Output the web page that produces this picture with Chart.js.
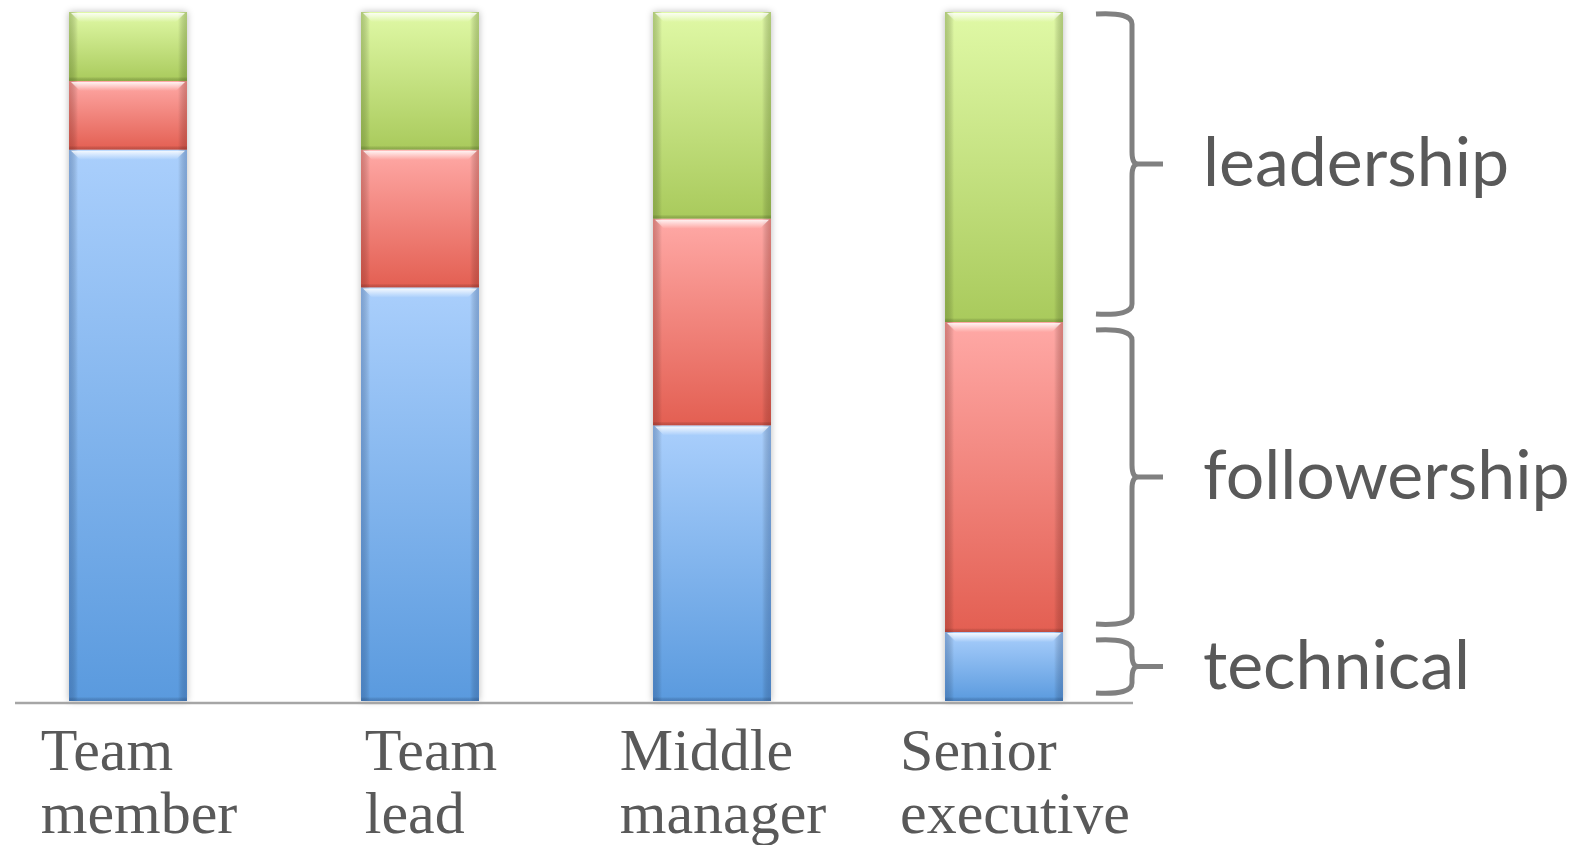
<!DOCTYPE html>
<html>
<head>
<meta charset="utf-8">
<script src="https://cdn.jsdelivr.net/npm/chart.js@4.4.1/dist/chart.umd.min.js"></script>
<style>
  html, body { margin: 0; padding: 0; background: #fff; }
  #wrap { width: 1588px; height: 845px; }
</style>
</head>
<body>
<div id="wrap"><canvas id="barChart" width="1588" height="845"></canvas></div>
<script>
// data (percent of each bar)
var categories = [['Team', 'member'], ['Team', 'lead'], ['Middle', 'manager'], ['Senior', 'executive']];
var technical = [80, 60, 40, 10];
var followership = [10, 20, 30, 45];
var leadership = [10, 20, 30, 45];
var seriesNames = ['technical', 'followership', 'leadership'];

var palette = [
    { top: '#aacffc', bottom: '#5a9ade', edge: 'rgba(40,80,140,0.35)' },
    { top: '#ffa9a6', bottom: '#e35f52', edge: 'rgba(140,40,30,0.35)' },
    { top: '#e0f9a6', bottom: '#a9ca5c', edge: 'rgba(80,110,30,0.35)' }
];

var allSeries = [technical, followership, leadership];

function segmentFill(dsIndex) {
    return function (c) {
        var chart = c.chart;
        var y = chart.scales.y;
        if (!chart.chartArea || !y) return palette[dsIndex].top;
        var j = c.dataIndex;
        var lo = 0;
        for (var k = 0; k < dsIndex; k++) lo += allSeries[k][j];
        var hi = lo + allSeries[dsIndex][j];
        var g = chart.ctx.createLinearGradient(0, y.getPixelForValue(hi), 0, y.getPixelForValue(lo));
        g.addColorStop(0, palette[dsIndex].top);
        g.addColorStop(1, palette[dsIndex].bottom);
        return g;
    };
}

// soft shadow behind each stacked column
var shadowPlugin = {
    id: 'shadow',
    beforeDatasetsDraw: function (chart) {
        var ctx = chart.ctx;
        var first = chart.getDatasetMeta(0).data;
        var lastMeta = chart.getDatasetMeta(chart.data.datasets.length - 1).data;
        ctx.save();
        ctx.shadowColor = 'rgba(0,0,0,0.28)';
        ctx.shadowBlur = 7;
        ctx.fillStyle = '#ffffff';
        first.forEach(function (el, j) {
            var p = el.getProps(['x', 'base', 'width'], true);
            var topY = lastMeta[j].getProps(['y'], true).y;
            ctx.fillRect(p.x - p.width / 2, topY, p.width, p.base - topY);
        });
        ctx.restore();
    }
};

// glossy edges on each segment
var glossPlugin = {
    id: 'gloss',
    afterDatasetsDraw: function (chart) {
        var ctx = chart.ctx;
        chart.data.datasets.forEach(function (ds, i) {
            var meta = chart.getDatasetMeta(i);
            meta.data.forEach(function (el) {
                var p = el.getProps(['x', 'y', 'base', 'width'], true);
                var l = p.x - p.width / 2, r = p.x + p.width / 2;
                var t = Math.min(p.y, p.base), b = Math.max(p.y, p.base);
                ctx.save();
                var gl = ctx.createLinearGradient(l, 0, l + 9, 0);
                gl.addColorStop(0, palette[i].edge);
                gl.addColorStop(1, 'rgba(0,0,0,0)');
                ctx.fillStyle = gl;
                ctx.fillRect(l, t, 9, b - t);
                var gr = ctx.createLinearGradient(r, 0, r - 9, 0);
                gr.addColorStop(0, palette[i].edge);
                gr.addColorStop(1, 'rgba(0,0,0,0)');
                ctx.fillStyle = gr;
                ctx.fillRect(r - 9, t, 9, b - t);
                // top highlight
                var gh = ctx.createLinearGradient(0, t, 0, t + 10);
                gh.addColorStop(0, 'rgba(255,255,255,0.95)');
                gh.addColorStop(1, 'rgba(255,255,255,0)');
                ctx.fillStyle = gh;
                ctx.beginPath();
                ctx.moveTo(l + 2, t + 1);
                ctx.lineTo(r - 2, t + 1);
                ctx.lineTo(r - 12, t + 11);
                ctx.lineTo(l + 12, t + 11);
                ctx.closePath();
                ctx.fill();
                // bottom darker line
                var gb = ctx.createLinearGradient(0, b - 4, 0, b);
                gb.addColorStop(0, 'rgba(0,0,0,0)');
                gb.addColorStop(1, palette[i].edge);
                ctx.fillStyle = gb;
                ctx.fillRect(l, b - 4, p.width, 4);
                ctx.restore();
            });
        });
    }
};

// baseline, category labels, braces
var annotatePlugin = {
    id: 'annotate',
    afterDraw: function (chart) {
        var ctx = chart.ctx;
        var xs = chart.scales.x, ys = chart.scales.y;
        var area = chart.chartArea;
        ctx.save();
        // axis line
        ctx.strokeStyle = '#a6a6a6';
        ctx.lineWidth = 2.5;
        ctx.beginPath();
        ctx.moveTo(15, area.bottom + 2);
        ctx.lineTo(1133, area.bottom + 2);
        ctx.stroke();

        // category labels: left-aligned block under each bar
        ctx.fillStyle = '#595959';
        ctx.font = '60px "Liberation Serif"';
        ctx.textBaseline = 'alphabetic';
        ctx.textAlign = 'left';
        categories.forEach(function (lines, i) {
            var cx = xs.getPixelForValue(i);
            var w = 0;
            lines.forEach(function (s) { w = Math.max(w, ctx.measureText(s).width); });
            var left = cx - w / 2 + 11;
            lines.forEach(function (s, k) {
                ctx.fillText(s, left, area.bottom + 69 + k * 63);
            });
        });

        // braces against the last bar's stack
        var last = categories.length - 1;
        var lo = 0, spans = [];
        allSeries.forEach(function (s) {
            spans.push([lo, lo + s[last]]);
            lo += s[last];
        });
        var vx = 1132, hx = 1096, tipx = 1163;
        ctx.strokeStyle = '#808080';
        ctx.lineWidth = 5;
        ctx.lineCap = 'butt';
        ctx.font = '68px Lato';
        ctx.fillStyle = '#595959';
        spans.forEach(function (sp, i) {
            var bot = ys.getPixelForValue(sp[0]) - 6;
            var top = ys.getPixelForValue(sp[1]) + (i === spans.length - 1 ? 0 : 6);
            var mid = (top + bot) / 2;
            var rr = Math.min(12, (bot - top) / 4);
            ctx.beginPath();
            ctx.moveTo(hx, top + 2);
            ctx.quadraticCurveTo(vx, top, vx, top + rr);
            ctx.lineTo(vx, mid - rr);
            ctx.quadraticCurveTo(vx, mid, vx + 6, mid);
            ctx.lineTo(tipx, mid);
            ctx.moveTo(vx + 6, mid);
            ctx.quadraticCurveTo(vx, mid, vx, mid + rr);
            ctx.lineTo(vx, bot - rr);
            ctx.quadraticCurveTo(vx, bot, hx, bot - 2);
            ctx.stroke();
            ctx.fillText(seriesNames[i], 1203, mid + 22);
        });
        ctx.restore();
    }
};

var barCanvas = document.getElementById('barChart').getContext('2d');
var barData = {
    labels: categories,
    datasets: allSeries.map(function (s, i) {
        return {
            label: seriesNames[i],
            data: s,
            backgroundColor: segmentFill(i),
            borderWidth: 0,
            barPercentage: 0.404,
            categoryPercentage: 1,
            clip: false
        };
    })
};

var barChart = new Chart(barCanvas, {
    type: 'bar',
    data: barData,
    options: {
        responsive: false,
        animation: false,
        layout: { padding: { left: 128, right: 584, top: 12, bottom: 144 } },
        plugins: { legend: { display: false }, tooltip: { enabled: false } },
        scales: {
            x: { stacked: true, offset: false, display: false, grid: { offset: false } },
            y: { stacked: true, min: 0, max: 100, display: false }
        }
    },
    plugins: [shadowPlugin, glossPlugin, annotatePlugin]
});
</script>
</body>
</html>
